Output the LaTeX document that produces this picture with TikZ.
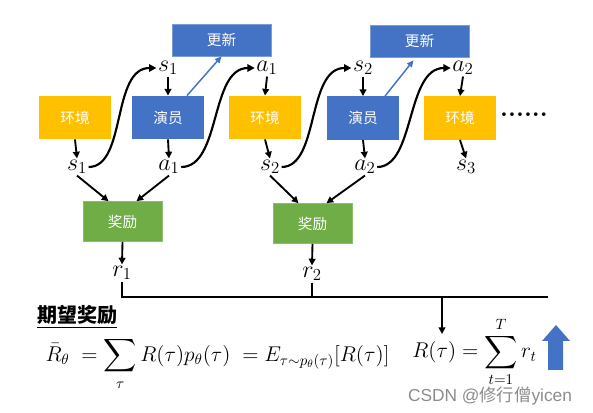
\RequirePackage{fix-cm}
\documentclass[tikz,border=0pt]{standalone}
\usepackage{amsmath}
\usepackage{fontspec}
\newfontfamily\cjk{Noto Sans CJK SC}
\newfontfamily\wmfont{Liberation Sans}
\usetikzlibrary{arrows.meta,calc}
\definecolor{envy}{HTML}{FFC000}
\definecolor{actb}{HTML}{4472C4}
\definecolor{rewg}{HTML}{70AD47}
\tikzset{
  envbox/.style={fill=envy, minimum width=54pt, minimum height=32.5pt, inner sep=0pt, text=white, font=\cjk\fontsize{11}{13}\selectfont},
  actbox/.style={envbox, fill=actb},
  updbox/.style={fill=actb, draw=actb!70!white, line width=0.5pt, minimum width=74pt, minimum height=24pt, inner sep=0pt, text=white, font=\cjk\fontsize{11}{13}\selectfont},
  rewbox/.style={fill=rewg, draw=rewg!80!white, line width=0.5pt, minimum width=59pt, minimum height=30pt, inner sep=0pt, text=white, font=\cjk\fontsize{11}{13}\selectfont},
  lbl/.style={inner sep=1pt, font=\fontsize{18}{21}\selectfont},
  arr/.style={-{Triangle[length=5pt,width=5pt]}, line width=1.4pt},
  wave/.style={-{Triangle[length=5.5pt,width=5.5pt]}, line width=1.6pt},
  updarr/.style={-{Triangle[length=5pt,width=4.5pt]}, line width=1.1pt, draw=actb},
  sumline/.style={line width=1.4pt},
}
\begin{document}
\begin{tikzpicture}[x=0.75pt,y=-0.75pt]
\useasboundingbox (0,0) rectangle (593,413);
% boxes
\node[envbox] (env1) at (75,117.5) {环境};
\node[actbox] (act1) at (168,117.5) {演员};
\node[envbox] (env2) at (265,117.5) {环境};
\node[actbox] (act2) at (363,118) {演员};
\node[envbox] (env3) at (460,118) {环境};
\node[updbox] (upd1) at (221.5,40) {更新};
\node[updbox] (upd2) at (419.5,41) {更新};
\node[rewbox] (rew1) at (122.5,221.5) {奖励};
\node[rewbox] (rew2) at (312.5,223.5) {奖励};
% labels
\node[lbl] (s1t) at (168,68) {$s_1$};
\node[lbl] (a1t) at (267,68) {$a_1$};
\node[lbl] (s2t) at (363,68) {$s_2$};
\node[lbl] (a2t) at (463,68) {$a_2$};
\node[lbl] (s1b) at (77,167) {$s_1$};
\node[lbl] (a1b) at (169,167) {$a_1$};
\node[lbl] (s2b) at (270,167) {$s_2$};
\node[lbl] (a2b) at (365,167) {$a_2$};
\node[lbl] (s3b) at (466,167) {$s_3$};
\node[lbl] (r1) at (122,273) {$r_1$};
\node[lbl] (r2) at (312,274) {$r_2$};
\node[inner sep=0pt, font=\fontsize{19}{21}\selectfont\bfseries] (dots) at (524,115) {......};
% vertical arrows
\draw[arr] (env1.south) -- (s1b.north);
\draw[arr] (act1.south) -- (a1b.north);
\draw[arr] (env2.south) -- (s2b.north);
\draw[arr] (act2.south) -- (a2b.north);
\draw[arr] (env3.south) -- (s3b.north);
\draw[arr] (s1t.south) -- (act1.north);
\draw[arr] (a1t.south) -- (env2.north);
\draw[arr] (s2t.south) -- (act2.north);
\draw[arr] (a2t.south) -- (env3.north);
% update arrows
\draw[updarr] ($(act1.north)+(19,0)$) -- (upd1.south);
\draw[updarr] ($(act2.north)+(22,0)$) -- ($(upd2.south)+(-6,3)$);
% wavy arrows
\draw[wave] (s1b.east) .. controls +(38,0) and +(-45,0) .. (s1t.west);
\draw[wave] (a1b.east) .. controls +(40,0) and +(-45,0) .. (a1t.west);
\draw[wave] (s2b.east) .. controls +(38,0) and +(-45,0) .. (s2t.west);
\draw[wave] (a2b.east) .. controls +(38,0) and +(-45,0) .. (a2t.west);
% into reward
\draw[arr] (s1b.south) -- ($(rew1.north)+(-14,0)$);
\draw[arr] (a1b.south) -- ($(rew1.north)+(14,0)$);
\draw[arr] (s2b.south) -- ($(rew2.north)+(-14,0)$);
\draw[arr] (a2b.south) -- ($(rew2.north)+(14,0)$);
\draw[arr] (rew1.south) -- (r1.north);
\draw[arr] (rew2.south) -- (r2.north);
% sum line
\coordinate (lineR) at (548,297);
\coordinate (j3) at (442,297);
\coordinate (j3e) at (442,334);
\draw[sumline] (r1.south) |- (lineR);
\draw[sumline] (r2.south) -- (r2.south |- lineR);
\draw[arr] (j3) -- (j3e);
% formulas
\node[inner sep=0pt, font=\cjk\bfseries\fontsize{15}{18}\selectfont] (title) at (77,317) {\underline{期望奖励}};
\node[inner sep=0pt, font=\fontsize{16}{19}\selectfont] (f1) at (217.5,364)
  {$\displaystyle \bar{R}_\theta \;=\sum_{\tau} R(\tau)p_\theta(\tau)\;= E_{\tau\sim p_\theta(\tau)}[R(\tau)]$};
\node[inner sep=0pt, font=\fontsize{16}{19}\selectfont] (f2) at (474.5,352)
  {$\displaystyle R(\tau) = \sum_{t=1}^{T} r_t$};
% big blue arrow
\fill[actb] (548,370) -- (548,341) -- (542,341) -- (556,325) -- (570,341) -- (563,341) -- (563,370) -- cycle;
% watermark
\node[inner sep=0pt, text=black!45, font=\fontsize{13}{15}\selectfont] (wm) at (490,396) {\wmfont CSDN @\cjk 修行僧\wmfont yicen};
\end{tikzpicture}
\end{document}
